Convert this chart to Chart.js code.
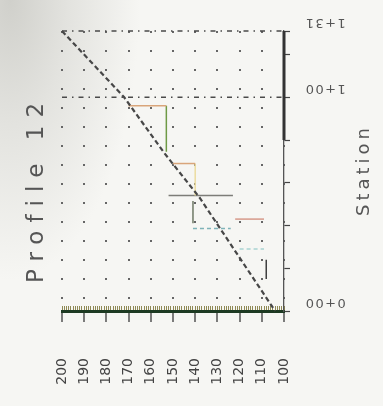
<!DOCTYPE html>
<html>
<head>
<meta charset="utf-8">
<script src="https://cdn.jsdelivr.net/npm/chart.js@4.4.1/dist/chart.umd.min.js"></script>
<style>
  html, body { margin: 0; padding: 0; }
  body {
    width: 383px; height: 406px; overflow: hidden;
    background: radial-gradient(ellipse 130px 280px at 10px 0px, #d0d0cb 0%, #e3e3df 45%, rgba(246,246,243,0) 100%), #f6f6f3;
  }
  canvas { display: block; }
</style>
</head>
<body>
<canvas id="profileChart" width="383" height="406"></canvas>
<script>
// ---- data ----
const chartTitle = 'Profile 12';
const stationTitle = 'Station';
const elevMin = 100;
const elevMax = 200;
const stationMax = 131;
const stationTicks = [0, 100, 131];
const stationLabels = ['0+00', '1+00', '1+31'];

// dashed ground line (elevation, station)
const groundElev = [200, 172, 154, 138, 104];
const groundSta = [131, 100, 74, 53, 0];

// dash-dot guide lines across the sheet
const guideElev = [200, 100];
const topSta = [131, 131];
const hundredSta = [100, 100];

// heavy piece on the station axis
const edgeElev = [100, 100];
const edgeSta = [80, 131];

// hand-drawn step traces
const stepElev = [[170, 153], [153, 153], [150, 140], [140, 140], [152, 123], [141, 141], [141, 124], [122, 109], [120, 109], [108, 108]];
const stepSta = [[96, 96], [96, 74.5], [69, 69], [69, 54], [54, 54], [51.5, 41], [38.6, 38.6], [43, 43], [29, 29], [24, 15]];
const stepColors = ['#d9a57a', '#6e9a45', '#d9a57a', '#ecdca0', '#7d7d78', '#6f7a66', '#7fb3b8', '#d6998a', '#a9d3d2', '#3f3f3f'];
const stepDash = [[], [], [], [], [], [], [4, 3], [], [4, 3], []];

const pts = (xs, ys) => xs.map((x, i) => ({ x: x, y: ys[i] }));

const line = (data, color, width, dash) => ({
  data: data,
  borderColor: color,
  borderWidth: width,
  borderDash: dash,
  showLine: true,
  pointRadius: 0,
  fill: false,
  clip: false
});

const datasets = [
  line(pts(guideElev, topSta), '#4a4a4a', 1.6, [5, 5, 1.5, 5]),
  line(pts(guideElev, hundredSta), '#4a4a4a', 1.6, [5, 5, 1.5, 5]),
  line(pts(edgeElev, edgeSta), '#333', 3, []),
  line(pts(groundElev, groundSta), '#474747', 2.2, [5, 3])
];
stepElev.forEach((e, i) => {
  datasets.push(line(pts(e, stepSta[i]), stepColors[i], 1.5, stepDash[i]));
});

// text that the scales cannot place themselves
const sheetText = {
  id: 'sheetText',
  afterDraw(chart) {
    const ctx = chart.ctx;
    const y = chart.scales.y;

    ctx.save();
    ctx.fillStyle = '#555';
    ctx.textAlign = 'center';
    ctx.textBaseline = 'middle';

    ctx.save();
    ctx.letterSpacing = '8px';
    ctx.font = '23px "DejaVu Sans"';
    ctx.translate(37, 189);
    ctx.rotate(-Math.PI / 2);
    ctx.fillText(chartTitle, 0, 0);
    ctx.restore();

    ctx.save();
    ctx.letterSpacing = '4px';
    ctx.font = '18px "DejaVu Sans"';
    ctx.translate(364, 170);
    ctx.rotate(-Math.PI / 2);
    ctx.fillText(stationTitle, 0, 0);
    ctx.restore();

    ctx.letterSpacing = '1.5px';
    ctx.font = '13px "DejaVu Sans"';
    stationTicks.forEach((v, i) => {
      ctx.save();
      ctx.translate(325, y.getPixelForValue(v) - 9);
      ctx.rotate(Math.PI);
      ctx.fillText(stationLabels[i], 0, 0);
      ctx.restore();
    });
    ctx.restore();
  }
};

new Chart(document.getElementById('profileChart').getContext('2d'), {
  type: 'scatter',
  data: { datasets: datasets },
  options: {
    responsive: false,
    animation: false,
    events: [],
    layout: { padding: { left: 62, right: 79, top: 31, bottom: 0 } },
    plugins: { legend: { display: false }, tooltip: { enabled: false } },
    scales: {
      x: {
        type: 'linear',
        position: 'bottom',
        min: elevMin,
        max: elevMax,
        reverse: true,
        ticks: {
          stepSize: 10,
          autoSkip: false,
          minRotation: 90,
          maxRotation: 90,
          padding: 36,
          color: '#444',
          font: { family: 'DejaVu Sans', size: 14 }
        },
        grid: {
          color: '#666',
          lineWidth: 2,
          tickLength: 11,
          tickColor: '#3a3a3a',
          tickWidth: 1.3
        },
        border: { color: '#1d3a22', width: 3, dash: [2, 17] },
        afterFit: s => { s.height = 95; }
      },
      xm: {
        type: 'linear',
        axis: 'x',
        position: { y: 0 },
        min: elevMin,
        max: elevMax,
        reverse: true,
        ticks: { display: false, stepSize: 1 },
        grid: { drawOnChartArea: false, tickLength: -5, tickColor: '#8f8a55', tickWidth: 1 },
        border: { display: false }
      },
      y: {
        type: 'linear',
        position: 'right',
        min: 0,
        max: stationMax,
        ticks: { stepSize: 20, callback: () => '' },
        grid: { drawOnChartArea: false, tickLength: 6, tickColor: '#444', tickWidth: 1.2 },
        border: { color: '#555', width: 1.3 },
        afterFit: s => { s.width = 20; }
      }
    }
  },
  plugins: [sheetText]
});
</script>
</body>
</html>
